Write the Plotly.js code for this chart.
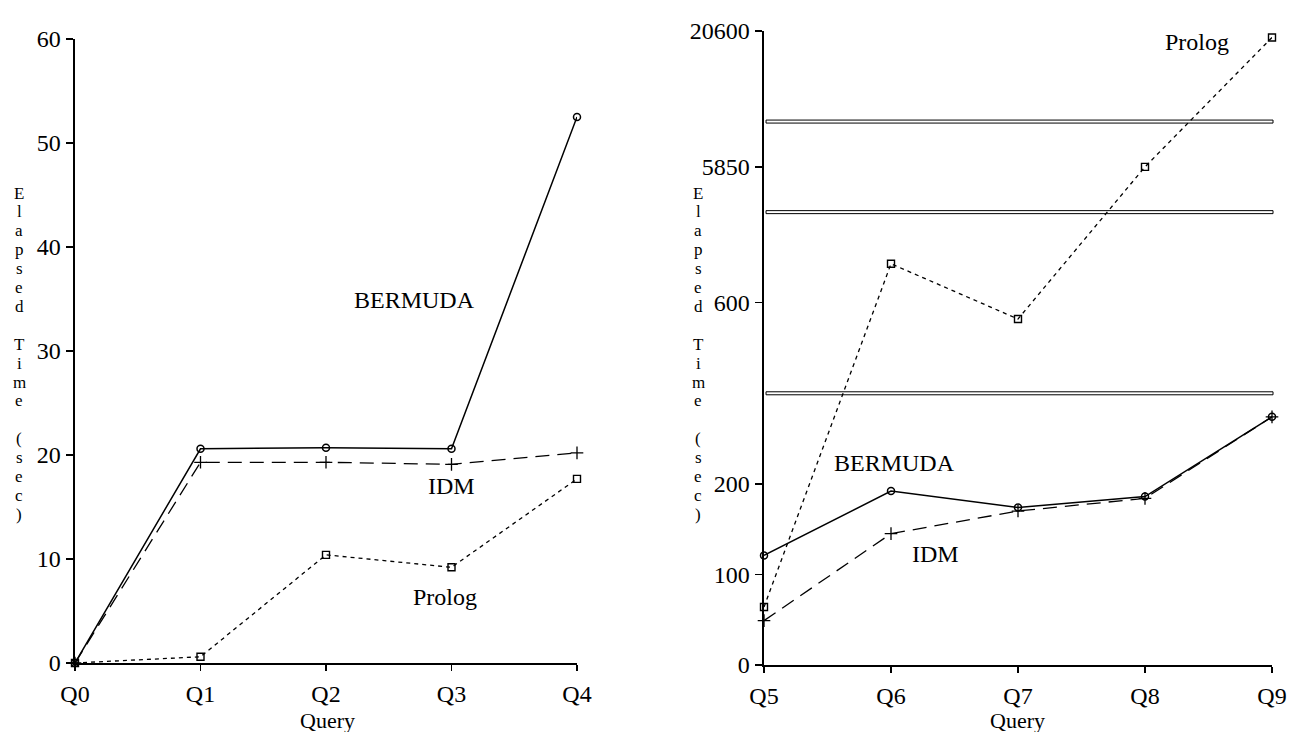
<!DOCTYPE html>
<html>
<head>
<meta charset="utf-8">
<script src="https://cdn.plot.ly/plotly-3.0.1.min.js"></script>
<style>html,body{margin:0;padding:0;background:#fff;}#chart{width:1295px;height:732px;}</style>
</head>
<body>
<div id="chart"></div>
<script>
// ---------- data ----------
const queriesLeft = ['Q0', 'Q1', 'Q2', 'Q3', 'Q4'];
const bermudaLeft = [0, 20.6, 20.7, 20.6, 52.5];
const idmLeft     = [0, 19.3, 19.3, 19.1, 20.2];
const prologLeft  = [0, 0.6, 10.4, 9.2, 17.7];

const queriesRight = ['Q5', 'Q6', 'Q7', 'Q8', 'Q9'];
const bermudaRight = [121, 192, 174, 186, 274];
const idmRight     = [49, 145, 170, 184, 274];
const prologRight  = [64, 729, 546, 5850, 19900];

const leftTickValues  = [0, 10, 20, 30, 40, 50, 60];
const rightTickValues = [0, 100, 200, 600, 5850, 20600];

// broken (piecewise) scale of the right axis
const rightScaleValues = [0, 300, 900, 10800, 20600];
const rightScaleSteps  = [0, 3, 5, 6, 7];
const rightBreakValues = [300, 900, 10800];

const seriesNames = ['BERMUDA', 'IDM', 'Prolog'];
const yTitle = 'Elapsed Time (sec)';
const xTitle = 'Query';

// ---------- helpers ----------
function brk(v) {
  for (let i = 0; i < rightScaleValues.length - 1; i++) {
    const a = rightScaleValues[i], b = rightScaleValues[i + 1];
    if (v <= b || i === rightScaleValues.length - 2) {
      const sa = rightScaleSteps[i], sb = rightScaleSteps[i + 1];
      return sa + (v - a) / (b - a) * (sb - sa);
    }
  }
}

const FONT = 'Liberation Serif, Times New Roman, serif';
const W = 1295, H = 732;

const styles = {
  BERMUDA: {line: {color: '#000', width: 1.5, dash: 'solid'}, marker: {symbol: 'circle-open', size: 7, color: '#000', line: {width: 1.5, color: '#000'}}},
  IDM:     {line: {color: '#000', width: 1.3, dash: '14px,8px'}, marker: {symbol: 'cross-thin-open', size: 9, color: '#000', line: {width: 1.3, color: '#000'}}},
  Prolog:  {line: {color: '#000', width: 1.3, dash: '4px,4px'}, marker: {symbol: 'square-open', size: 7, color: '#000', line: {width: 1.4, color: '#000'}}}
};

const leftSeries = [bermudaLeft, idmLeft, prologLeft];
const rightSeries = [bermudaRight, idmRight, prologRight];

const traces = [];
seriesNames.forEach((n, i) => {
  traces.push({x: queriesLeft, y: leftSeries[i], name: n, type: 'scatter', mode: 'lines+markers',
    line: styles[n].line, marker: styles[n].marker, xaxis: 'x', yaxis: 'y', cliponaxis: false, showlegend: false});
});
seriesNames.forEach((n, i) => {
  traces.push({x: queriesRight, y: rightSeries[i].map(brk), name: n, type: 'scatter', mode: 'lines+markers',
    customdata: rightSeries[i], hovertemplate: '%{customdata}<extra>' + n + '</extra>',
    line: styles[n].line, marker: styles[n].marker, xaxis: 'x2', yaxis: 'y2', cliponaxis: false, showlegend: false});
});

const tickFont = {family: FONT, size: 24, color: '#000'};
const axisCommon = {showgrid: false, zeroline: false, showline: true, linecolor: '#000',
  ticks: 'outside', tickcolor: '#000', tickfont: tickFont, fixedrange: true};

const annotations = [];
// stacked vertical y titles
function stackTitle(xPx) {
  const chars = yTitle.split('');
  chars.forEach((c, i) => {
    if (c === ' ') return;
    annotations.push({text: c, xref: 'paper', yref: 'paper', x: xPx / W, y: 1 - (193 + i * 18.9) / H,
      xanchor: 'center', yanchor: 'middle', showarrow: false, font: {family: FONT, size: 17, color: '#000'}});
  });
}
stackTitle(19);
stackTitle(698);

// x titles
[327, 1017].forEach(xPx => {
  annotations.push({text: xTitle, xref: 'paper', yref: 'paper', x: xPx / W, y: 1 - 707 / H,
    xanchor: 'center', yanchor: 'top', showarrow: false, borderpad: 0,
    font: {family: FONT, size: 22, color: '#000'}});
});

function label(text, xPx, yPx) {
  annotations.push({text: text, xref: 'paper', yref: 'paper', x: xPx / W, y: 1 - yPx / H,
    xanchor: 'center', yanchor: 'middle', showarrow: false, font: {family: FONT, size: 24, color: '#000'}});
}
label(seriesNames[0], 414, 300);
label(seriesNames[1], 451, 486);
label(seriesNames[2], 445, 597);
label(seriesNames[0], 894, 463);
label(seriesNames[1], 935, 554);
label(seriesNames[2], 1197, 42);

const shapes = rightBreakValues.map(v => ({
  type: 'rect', xref: 'x2 domain', yref: 'y2', x0: 0.004, x1: 1.002,
  ysizemode: 'pixel', yanchor: brk(v), y0: -1.5, y1: 1.5,
  line: {color: '#000', width: 1}, fillcolor: '#fff', layer: 'below'
}));

const layout = {
  width: W, height: H, autosize: false,
  margin: {l: 0, r: 0, t: 0, b: 0, pad: 0},
  paper_bgcolor: '#fff', plot_bgcolor: 'rgba(0,0,0,0)',
  font: {family: FONT, color: '#000'},
  showlegend: false,
  xaxis: Object.assign({}, axisCommon, {domain: [75 / W, 577 / W], type: 'category', range: [0, 4],
    linewidth: 2, ticklen: 6, tickwidth: 1.5, ticklabelstandoff: 2, anchor: 'y'}),
  yaxis: Object.assign({}, axisCommon, {domain: [(H - 663) / H, (H - 39) / H], range: [0, 60],
    tickvals: leftTickValues, ticktext: leftTickValues.map(String),
    linewidth: 2.5, ticklen: 7, tickwidth: 1.5, anchor: 'x'}),
  xaxis2: Object.assign({}, axisCommon, {domain: [764 / W, 1272 / W], type: 'category', range: [0, 4],
    linewidth: 2, ticklen: 6, tickwidth: 1.5, ticklabelstandoff: 2, anchor: 'y2'}),
  yaxis2: Object.assign({}, axisCommon, {domain: [(H - 665) / H, (H - 31) / H], range: [0, 7],
    tickvals: rightTickValues.map(brk), ticktext: rightTickValues.map(String),
    linewidth: 2.5, ticklen: 7, tickwidth: 1.5, anchor: 'x2'}),
  annotations: annotations,
  shapes: shapes
};

Plotly.newPlot('chart', traces, layout, {displayModeBar: false, staticPlot: true});
</script>
</body>
</html>
